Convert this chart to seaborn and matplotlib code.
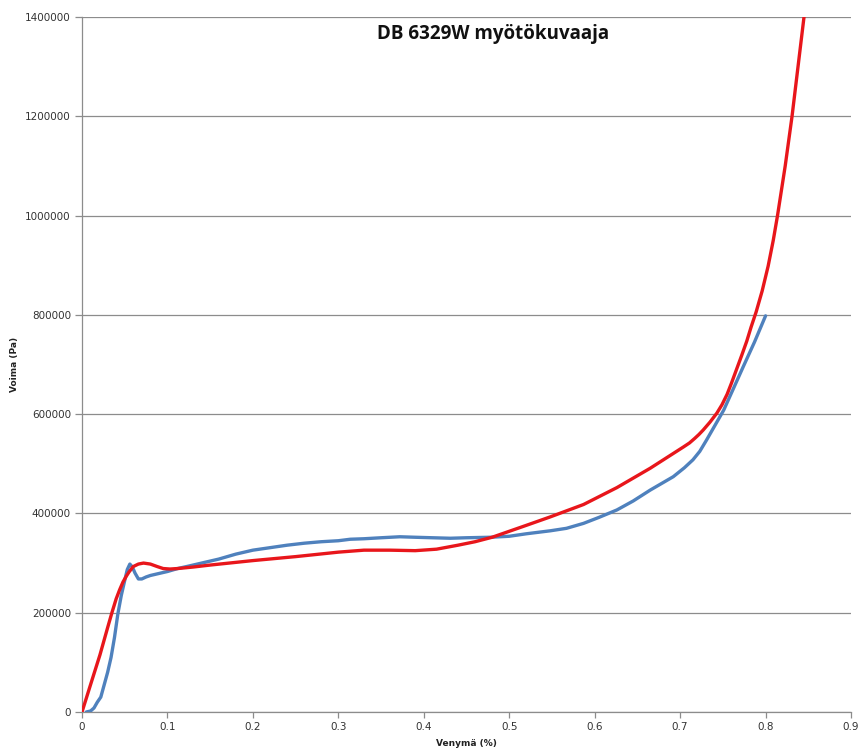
import matplotlib
matplotlib.use("Agg")
import matplotlib.pyplot as plt
import seaborn as sns
import pandas as pd
from matplotlib.ticker import FuncFormatter

# ---- data ----
blue_x = [0.005, 0.010, 0.014, 0.018, 0.022, 0.026, 0.030, 0.034, 0.038, 0.042,
          0.046, 0.050, 0.053, 0.056, 0.059, 0.062, 0.066, 0.070, 0.075, 0.080,
          0.090, 0.100, 0.112, 0.125, 0.140, 0.160, 0.180, 0.200, 0.220, 0.240,
          0.260, 0.280, 0.300, 0.314, 0.330, 0.350, 0.372, 0.390, 0.410, 0.431,
          0.450, 0.478, 0.500, 0.520, 0.548, 0.567, 0.587, 0.605, 0.626, 0.645,
          0.665, 0.680, 0.692, 0.705, 0.715, 0.723, 0.731, 0.741, 0.751, 0.762,
          0.774, 0.787, 0.800]
blue_y = [0, 2000, 8000, 20000, 30000, 55000, 80000, 110000, 150000, 198000,
          235000, 265000, 287000, 298000, 292000, 280000, 268000, 268000, 272000, 275000,
          279000, 283000, 289000, 294000, 300000, 308000, 318000, 326000, 331000, 336000,
          340000, 343000, 345000, 348000, 349000, 351000, 353000, 352000, 351000, 350000,
          351000, 352000, 354000, 359000, 365000, 370000, 380000, 392000, 407000, 425000,
          447000, 462000, 474000, 492000, 508000, 525000, 548000, 578000, 608000, 650000,
          696000, 745000, 798000]

red_x = [0.000, 0.010, 0.021, 0.030, 0.035, 0.040, 0.044, 0.048, 0.052, 0.055,
         0.060, 0.066, 0.072, 0.080, 0.088, 0.095, 0.103, 0.112, 0.130, 0.150,
         0.200, 0.250, 0.300, 0.330, 0.360, 0.390, 0.415, 0.440, 0.460, 0.480,
         0.500, 0.520, 0.548, 0.587, 0.626, 0.665, 0.704, 0.711, 0.717, 0.722,
         0.727, 0.735, 0.743, 0.749, 0.755, 0.760, 0.766, 0.772, 0.778, 0.783,
         0.789, 0.796, 0.803, 0.809, 0.814, 0.823, 0.831, 0.838, 0.845]
red_y = [0, 55000, 115000, 170000, 200000, 228000, 246000, 262000, 274000, 282000,
         293000, 298000, 300000, 298000, 293000, 289000, 288000, 289000, 292000, 296000,
         305000, 313000, 322000, 326000, 326000, 325000, 328000, 336000, 343000, 352000,
         364000, 376000, 393000, 418000, 452000, 491000, 534000, 542000, 551000, 559000,
         568000, 584000, 602000, 619000, 640000, 662000, 690000, 718000, 747000, 775000,
         806000, 848000, 898000, 950000, 1000000, 1100000, 1200000, 1300000, 1400000]

x_ticks = [0, 0.1, 0.2, 0.3, 0.4, 0.5, 0.6, 0.7, 0.8, 0.9]
x_tick_labels = ["0", "0.1", "0.2", "0.3", "0.4", "0.5", "0.6", "0.7", "0.8", "0.9"]
y_ticks = [0, 200000, 400000, 600000, 800000, 1000000, 1200000, 1400000]

title = "DB 6329W myötökuvaaja"
x_label = "Venymä (%)"
y_label = "Voima (Pa)"

# ---- plot ----
sns.set_style("white")
plt.rcParams["font.family"] = ["DejaVu Sans"]

fig = plt.figure(figsize=(8.62, 7.55), dpi=100)
ax = fig.add_axes([82 / 862, 1 - 712 / 755, (851 - 82) / 862, (712 - 17) / 755])

blue_df = pd.DataFrame({"x": blue_x, "y": blue_y})
red_df = pd.DataFrame({"x": red_x, "y": red_y})

sns.lineplot(data=blue_df, x="x", y="y", ax=ax, sort=False, estimator=None,
             color="#4F81BD", linewidth=2.4, zorder=3)
sns.lineplot(data=red_df, x="x", y="y", ax=ax, sort=False, estimator=None,
             color="#E8161B", linewidth=2.4, zorder=4)

ax.set_xlim(0, 0.9)
ax.set_ylim(0, 1400000)
ax.set_xticks(x_ticks)
ax.set_xticklabels(x_tick_labels)
ax.set_yticks(y_ticks)
ax.yaxis.set_major_formatter(FuncFormatter(lambda v, p: f"{int(v)}"))

ax.yaxis.grid(True, color="#8C8C8C", linewidth=0.9)
ax.xaxis.grid(False)
ax.set_axisbelow(True)

for s in ["top", "right"]:
    ax.spines[s].set_visible(False)
for s in ["left", "bottom"]:
    ax.spines[s].set_color("#8C8C8C")
    ax.spines[s].set_linewidth(0.9)

ax.tick_params(axis="both", which="major", direction="out", length=4, width=0.9,
               color="#8C8C8C", labelsize=7.5, labelcolor="#333333", pad=3)
ax.tick_params(axis="y", left=True, length=5)
ax.tick_params(axis="x", bottom=True, length=4)

ax.set_xlabel(x_label, fontsize=6.5, fontweight="bold", color="#222222")
ax.set_ylabel(y_label, fontsize=6.5, fontweight="bold", color="#222222")
ax.yaxis.set_label_coords(-(82 - 15) / 769, 0.5)
ax.xaxis.set_label_coords(0.5, -(744 - 712) / 695)
ax.xaxis.label.set_va("center")
ax.yaxis.label.set_va("center")

ax.text(0.535, 0.99, title, transform=ax.transAxes, ha="center", va="top",
        fontsize=13.5, fontweight="bold", color="#111111", family=["Open Sans", "DejaVu Sans"])

fig.savefig("out.png", dpi=100, facecolor="white")
